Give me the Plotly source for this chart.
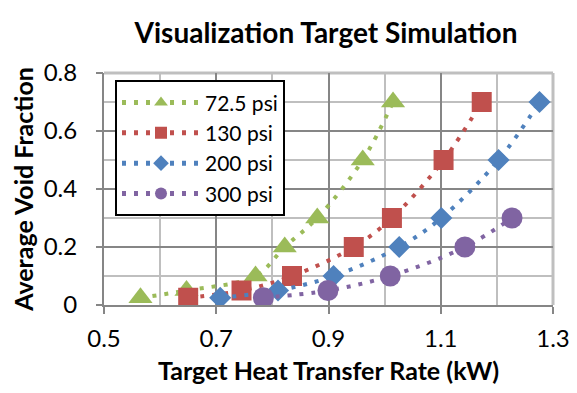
import plotly.graph_objects as go

series_names = ["72.5 psi", "130 psi", "200 psi", "300 psi"]
x_72 = [0.565, 0.647, 0.770, 0.822, 0.880, 0.961, 1.015]
y_72 = [0.025, 0.05, 0.1, 0.2, 0.3, 0.5, 0.7]
x_130 = [0.650, 0.745, 0.835, 0.945, 1.013, 1.105, 1.173]
y_130 = [0.025, 0.05, 0.1, 0.2, 0.3, 0.5, 0.7]
x_200 = [0.707, 0.810, 0.909, 1.026, 1.101, 1.203, 1.276]
y_200 = [0.025, 0.05, 0.1, 0.2, 0.3, 0.5, 0.7]
x_300 = [0.784, 0.899, 1.010, 1.143, 1.227]
y_300 = [0.025, 0.05, 0.1, 0.2, 0.3]

xs = [x_72, x_130, x_200, x_300]
ys = [y_72, y_130, y_200, y_300]
colors = ["#9BBB59", "#C0504D", "#4F81BD", "#8064A2"]
symbols = ["triangle-up", "square", "diamond", "circle"]
sizes = [21, 20, 17, 21]

FONT = "Lato"
W, H, L, R, T, B = 577, 393, 96, 32, 65, 96

fig = go.Figure()
for i in range(4):
    fig.add_trace(go.Scatter(
        x=xs[i], y=ys[i], name=series_names[i], mode="lines+markers",
        line=dict(color=colors[i], width=4, dash="4px,8px", shape="spline", smoothing=1),
        marker=dict(symbol=symbols[i], size=sizes[i], color=colors[i], line=dict(width=0)),
    ))
# carrier for the overlay axis that draws the visible y tick marks
fig.add_trace(go.Scatter(x=[], y=[], yaxis="y2", showlegend=False, hoverinfo="skip"))

fig.update_layout(
    width=W, height=H,
    margin=dict(l=L, r=R, t=T, b=B),
    paper_bgcolor="white", plot_bgcolor="white",
    font=dict(family=FONT, color="black", size=22),
    title=dict(text="<b>Visualization Target Simulation</b>", x=318 / 577, xanchor="center",
               y=1 - 25 / 393, yanchor="middle", font=dict(size=28, family=FONT)),
    xaxis=dict(range=[0.5, 1.3], tick0=0.5, dtick=0.2, tickformat=".1f",
               showgrid=True, gridcolor="#868686", gridwidth=1.5,
               minor=dict(dtick=0.1, showgrid=True, gridcolor="#BFBFBF", gridwidth=1.5),
               showline=True, linecolor="#868686", linewidth=2,
               ticks="outside", ticklen=7, tickcolor="#868686", tickwidth=2,
               tickfont=dict(size=24), zeroline=False, automargin=False,
               ticklabelstandoff=4,
               title=dict(text="<b>Target Heat Transfer Rate (kW)</b>", font=dict(size=25), standoff=12)),
    yaxis=dict(range=[0, 0.8], tick0=0, dtick=0.2, tickformat="~g",
               showgrid=True, gridcolor="#868686", gridwidth=1.5,
               minor=dict(dtick=0.1, showgrid=True, gridcolor="#BFBFBF", gridwidth=1.5),
               showline=True, linecolor="#868686", linewidth=2,
               ticks="outside", ticklen=20, tickcolor="rgba(0,0,0,0)", tickwidth=2,
               tickfont=dict(size=24), zeroline=False, automargin=False,
               title=dict(text="<b>Average Void Fraction</b>", font=dict(size=25))),
    yaxis2=dict(overlaying="y", side="left", range=[0, 0.8], tick0=0, dtick=0.2,
                showticklabels=False, showgrid=False, showline=False, zeroline=False,
                ticks="outside", ticklen=7, tickcolor="#868686", tickwidth=2,
                automargin=False),
    legend=dict(x=0.0245, y=0.968, xanchor="left", yanchor="top",
                bgcolor="white", bordercolor="black", borderwidth=2,
                font=dict(size=21, family=FONT), itemwidth=78, itemsizing="constant",
                traceorder="normal"),
    shapes=[
        dict(type="line", xref="paper", yref="paper", x0=0, x1=1, y0=1, y1=1,
             line=dict(color="#BFBFBF", width=3), layer="below"),
        dict(type="line", xref="paper", yref="paper", x0=1, x1=1, y0=0, y1=1,
             line=dict(color="#BFBFBF", width=3), layer="below"),
    ],
)

fig.write_html("out.html")
